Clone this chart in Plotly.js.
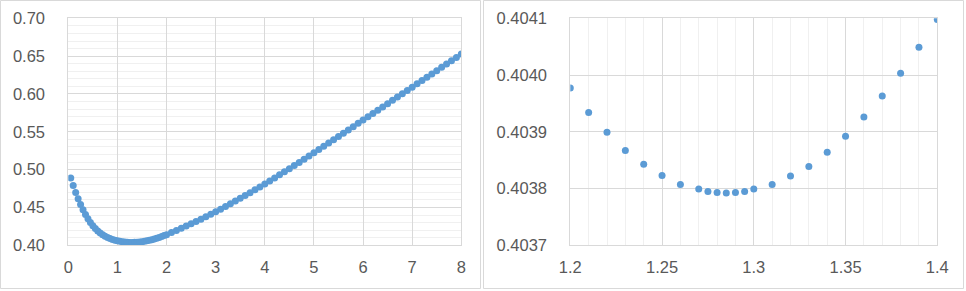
<!DOCTYPE html>
<html>
<head>
<meta charset="utf-8">
<script src="https://cdn.plot.ly/plotly-3.0.1.min.js"></script>
<style>
  html, body { margin: 0; padding: 0; background: #ffffff; }
  #chart { width: 966px; height: 291px; }
</style>
</head>
<body>
<div id="chart"></div>
<script>
// ---- Left panel data (full range) ----
const xLeft = [
  0.05,0.10,0.15,0.20,0.25,0.30,0.35,0.40,0.45,0.50,
  0.55,0.60,0.65,0.70,0.75,0.80,0.85,0.90,0.95,1.00,
  1.05,1.10,1.15,1.20,1.25,1.30,1.35,1.40,1.45,1.50,
  1.55,1.60,1.65,1.70,1.75,1.80,1.85,1.90,1.95,2.00,
  2.1,2.2,2.3,2.4,2.5,2.6,2.7,2.8,2.9,3.0,
  3.1,3.2,3.3,3.4,3.5,3.6,3.7,3.8,3.9,4.0,
  4.1,4.2,4.3,4.4,4.5,4.6,4.7,4.8,4.9,5.0,
  5.1,5.2,5.3,5.4,5.5,5.6,5.7,5.8,5.9,6.0,
  6.1,6.2,6.3,6.4,6.5,6.6,6.7,6.8,6.9,7.0,
  7.1,7.2,7.3,7.4,7.5,7.6,7.7,7.8,7.9,8.0
];
const yLeft = [
  0.48884,0.47894,0.46984,0.46154,0.45394,0.44704,0.44077,0.43519,0.43026,0.42594,
  0.42219,0.41896,0.41620,0.41386,0.41189,0.41024,0.40886,0.40770,0.40671,0.40588,
  0.40520,0.40466,0.40426,0.40398,0.40382,0.40380,0.40389,0.40410,0.40441,0.40482,
  0.40534,0.40596,0.40668,0.40749,0.40839,0.40937,0.41044,0.41158,0.41280,0.41409,
  0.41679,0.41957,0.42243,0.42536,0.42836,0.43143,0.43457,0.43777,0.44104,0.44436,
  0.44779,0.45128,0.45483,0.45842,0.46207,0.46577,0.46952,0.47331,0.47715,0.48103,
  0.48503,0.48905,0.49310,0.49718,0.50128,0.50541,0.50957,0.51375,0.51796,0.52218,
  0.52650,0.53082,0.53515,0.53948,0.54381,0.54814,0.55247,0.55680,0.56114,0.56548,
  0.56982,0.57416,0.57851,0.58286,0.58721,0.59156,0.59591,0.60026,0.60462,0.60898,
  0.61334,0.61770,0.62207,0.62644,0.63081,0.63518,0.63955,0.64392,0.64830,0.65268
];

// ---- Right panel data (zoom around the minimum) ----
const xRight = [1.20,1.21,1.22,1.23,1.24,1.25,1.26,1.27,1.275,1.28,1.285,1.29,1.295,
                1.30,1.31,1.32,1.33,1.34,1.35,1.36,1.37,1.38,1.39,1.40];
const yRight = [0.403977,0.403934,0.403899,0.403867,0.403843,0.403823,0.403807,0.403799,
                0.403795,0.403793,0.403792,0.403793,0.403795,0.403799,0.403807,0.403822,
                0.403839,0.403864,0.403892,0.403926,0.403963,0.404003,0.404049,0.404098];

// ---- Tick labels ----
const leftXTicks = [0,1,2,3,4,5,6,7,8];
const leftYTicks = [0.40,0.45,0.50,0.55,0.60,0.65,0.70];
const rightXTicks = [1.2,1.25,1.3,1.35,1.4];
const rightXText = ['1.2','1.25','1.3','1.35','1.4'];
const rightYTicks = [0.4037,0.4038,0.4039,0.4040,0.4041];

const W = 966, H = 291;
const px = v => v / W;
const py = v => (H - v) / H;

const markerColor = '#5b9bd5';
const gridMajor = '#d9d9d9';
const gridMinor = '#f0f0f0';
const tickFont = {family: '"Liberation Sans", Arial, sans-serif', size: 16.5, color: '#595959'};

const traces = [
  {x: xLeft, y: yLeft, type: 'scatter', mode: 'markers', xaxis: 'x', yaxis: 'y',
   marker: {color: markerColor, size: 7}, hoverinfo: 'skip'},
  {x: xRight, y: yRight, type: 'scatter', mode: 'markers', xaxis: 'x2', yaxis: 'y2',
   marker: {color: markerColor, size: 7}, hoverinfo: 'skip'}
];

const yDom = [py(245.3), py(18.3)];

const layout = {
  width: W, height: H,
  margin: {l: 0, r: 0, t: 0, b: 0, pad: 0},
  paper_bgcolor: '#ffffff', plot_bgcolor: '#ffffff',
  showlegend: false,
  xaxis: {
    domain: [px(68.3), px(461.3)], anchor: 'y',
    range: [0, 8], tickvals: leftXTicks, ticktext: leftXTicks.map(String),
    showgrid: true, gridcolor: gridMajor, gridwidth: 1,
    showline: true, linecolor: gridMajor, linewidth: 1, mirror: true,
    zeroline: false, ticks: '', ticklabelstandoff: 7,
    tickfont: tickFont, fixedrange: true
  },
  yaxis: {
    domain: yDom, anchor: 'x',
    range: [0.40, 0.70], tickvals: leftYTicks, ticktext: leftYTicks.map(v => v.toFixed(2)),
    showgrid: true, gridcolor: gridMajor, gridwidth: 1,
    minor: {dtick: 0.01, tick0: 0.40, showgrid: true, gridcolor: gridMinor, gridwidth: 1, ticks: ''},
    showline: true, linecolor: gridMajor, linewidth: 1, mirror: true,
    zeroline: false, ticks: '', ticklabelstandoff: 19,
    tickfont: tickFont, fixedrange: true
  },
  xaxis2: {
    domain: [px(570.3), px(937.3)], anchor: 'y2',
    range: [1.2, 1.4], tickvals: rightXTicks, ticktext: rightXText,
    showgrid: true, gridcolor: gridMajor, gridwidth: 1,
    minor: {dtick: 0.01, tick0: 1.2, showgrid: true, gridcolor: gridMinor, gridwidth: 1, ticks: ''},
    showline: true, linecolor: gridMajor, linewidth: 1, mirror: true,
    zeroline: false, ticks: '', ticklabelstandoff: 7,
    tickfont: tickFont, fixedrange: true
  },
  yaxis2: {
    domain: yDom, anchor: 'x2',
    range: [0.4037, 0.4041], tickvals: rightYTicks, ticktext: rightYTicks.map(v => v.toFixed(4)),
    showgrid: true, gridcolor: gridMajor, gridwidth: 1,
    showline: true, linecolor: gridMajor, linewidth: 1, mirror: true,
    zeroline: false, ticks: '', ticklabelstandoff: 19,
    tickfont: tickFont, fixedrange: true
  },
  shapes: [
    {type: 'rect', xref: 'paper', yref: 'paper', x0: px(0.5), x1: px(480.5), y0: py(288.5), y1: py(0.5),
     line: {color: '#d9d9d9', width: 1}, fillcolor: 'rgba(0,0,0,0)', layer: 'below'},
    {type: 'rect', xref: 'paper', yref: 'paper', x0: px(483.5), x1: px(963.5), y0: py(288.5), y1: py(0.5),
     line: {color: '#d9d9d9', width: 1}, fillcolor: 'rgba(0,0,0,0)', layer: 'below'}
  ]
};

Plotly.newPlot('chart', traces, layout, {displayModeBar: false, staticPlot: true});
</script>
</body>
</html>
